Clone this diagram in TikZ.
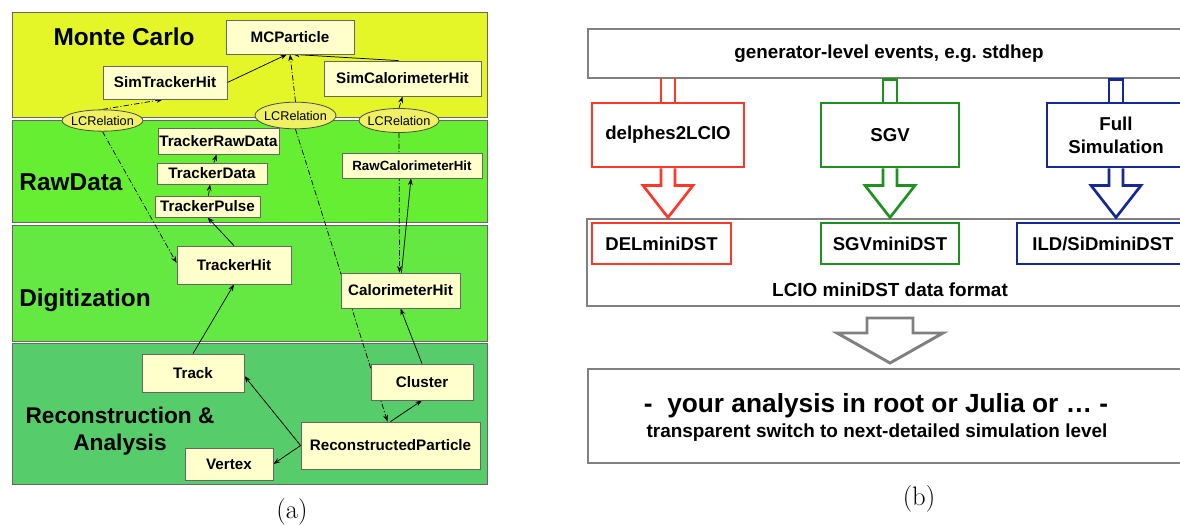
\documentclass[tikz,border=0pt]{standalone}
\usepackage{fontspec}
\newfontfamily\arialfont{Liberation Sans}
\usetikzlibrary{arrows.meta,shapes.geometric,calc}
\pgfdeclarelayer{bg}
\pgfdeclarelayer{edges}
\pgfsetlayers{bg,edges,main}
\definecolor{mcband}{RGB}{228,245,40}
\definecolor{rawband}{RGB}{102,238,50}
\definecolor{digband}{RGB}{100,232,66}
\definecolor{recband}{RGB}{86,204,106}
\definecolor{nodefill}{RGB}{255,255,204}
\definecolor{ellfill}{RGB}{240,240,100}
\definecolor{myred}{RGB}{255,55,40}
\definecolor{mygreen}{RGB}{30,145,30}
\definecolor{myblue}{RGB}{20,40,150}
\definecolor{mygray}{RGB}{128,128,128}
\tikzset{
 box/.style={draw=black!60, fill=nodefill, line width=0.6pt, inner sep=0pt, text=black, font=\arialfont\bfseries\fontsize{11.4}{13}\selectfont},
 rel/.style={ellipse, draw=black!70, fill=ellfill, line width=0.6pt, inner sep=0pt, font=\arialfont\fontsize{9.5}{11}\selectfont},
 band/.style={draw=black!60, line width=0.7pt},
 bandlbl/.style={font=\arialfont\bfseries\fontsize{18.3}{21}\selectfont, inner sep=0pt},
 conn/.style={line width=0.55pt, -{Stealth[length=5pt,width=3.6pt]}},
 reldash/.style={conn, dash pattern=on 4pt off 1.6pt on 0.8pt off 1.6pt},
 gframe/.style={draw=mygray, line width=2.2pt, fill=white, inner sep=0pt},
 cbox/.style={draw=#1, line width=2.2pt, fill=white, inner sep=0pt, align=center, font=\arialfont\bfseries\fontsize{14}{17.25}\selectfont},
 minibox/.style={cbox=#1, font=\arialfont\bfseries\fontsize{13.9}{16}\selectfont},
 carrow/.style={draw=#1, line width=2pt, line join=miter},
 sublabel/.style={font=\fontsize{20}{24}\selectfont, inner sep=0pt},
 rtext/.style={inner sep=0pt, font=\arialfont\bfseries\fontsize{#1}{#1}\selectfont}
}
\begin{document}
\begin{tikzpicture}[x=0.75pt,y=-0.75pt]
\useasboundingbox (0,0) rectangle (1180,525);
% ---------------- left panel bands
\begin{pgfonlayer}{bg}
\draw[band, fill=mcband] (12,12) rectangle (487,117);
\draw[band, fill=rawband] (12,120) rectangle (487,222.5);
\draw[band, fill=digband] (12,225.5) rectangle (487,341);
\draw[band, fill=recband] (12,343) rectangle (487.5,484);
\end{pgfonlayer}
\node[bandlbl] (lmc) at (124,37) {Monte Carlo};
\node[bandlbl] (lraw) at (71,182) {RawData};
\node[bandlbl] (ldig) at (85,300) {Digitization};
\node[bandlbl, align=center, font=\arialfont\bfseries\fontsize{17}{20}\selectfont] (lrec) at (120,431) {Reconstruction \&\\Analysis};
% ---------------- left panel nodes
\node[box, minimum width=96pt, minimum height=25.5pt] (mcp) at (290,37) {MCParticle};
\node[box, minimum width=93pt, minimum height=24.75pt] (sth) at (165,82.5) {SimTrackerHit};
\node[box, minimum width=117.75pt, minimum height=26.25pt] (sch) at (402.5,78.5) {SimCalorimeterHit};
\node[rel, minimum width=60.75pt, minimum height=16pt] (rell) at (102.5,120.5) {\makebox[0pt]{LCRelation}};
\node[rel, minimum width=60.75pt, minimum height=20pt] (relm) at (295.5,115.5) {\makebox[0pt]{LCRelation}};
\node[rel, minimum width=60pt, minimum height=18pt] (relr) at (399,120.5) {\makebox[0pt]{LCRelation}};
\node[box, minimum width=90.75pt, minimum height=19.5pt] (trd) at (218.5,141) {TrackerRawData};
\node[box, minimum width=82.5pt, minimum height=15.75pt] (td) at (212,173.5) {TrackerData};
\node[box, minimum width=78.75pt, minimum height=15.75pt] (tp) at (207.5,206.5) {TrackerPulse};
\node[box, minimum width=105pt, minimum height=18.75pt, font=\arialfont\bfseries\fontsize{10}{12}\selectfont] (rch) at (412,165.5) {RawCalorimeterHit};
\node[box, minimum width=85.5pt, minimum height=28.5pt] (trh) at (234,265) {TrackerHit};
\node[box, minimum width=89.25pt, minimum height=26.25pt] (cah) at (400.5,290.5) {CalorimeterHit};
\node[box, minimum width=76.5pt, minimum height=28.5pt] (trk) at (193,373) {Track};
\node[box, minimum width=76.5pt, minimum height=27pt] (cl) at (422,382) {Cluster};
\node[box, minimum width=134.25pt, minimum height=35.25pt] (rp) at (390.5,445.5) {ReconstructedParticle};
\node[box, minimum width=66pt, minimum height=24pt] (vtx) at (229,464) {Vertex};
% ---------------- left panel connectors
\begin{pgfonlayer}{edges}
\draw[conn] (sth.east) -- ($(mcp.south)+(-3,0)$);
\draw[conn] ($(sch.north)+(-4,0)$) -- ($(mcp.south)+(3,0)$);
\draw[reldash] (relm.north) -- (mcp.south);
\draw[reldash] (rell.north) -- ($(sth.south)+(-2,0)$);
\draw[reldash] (relr.north) -- (sch.south);
\draw[reldash] (rell.south) -- ($(trh.west)+(0,-2)$);
\draw[reldash] (relm.south) -- ($(rp.north)+(-3,0)$);
\draw[reldash] (relr.south) -- ($(cah.north)+(-1,0)$);
\draw[conn] ($(cah.north)+(1,0)$) -- ($(rch.south)+(-1,0)$);
\draw[reldash] ($(tp.north)+(1,0)$) -- ($(td.south)+(-2,0)$);
\draw[reldash] ($(td.north)+(2,0)$) -- ($(trd.south)+(-2,0)$);
\draw[conn] (trh.north) -- (tp.south);
\draw[conn] (trk.north) -- (trh.south);
\draw[conn] (cl.north) -- (cah.south);
\draw[conn] (rp.west) -- ($(trk.east)+(0,3)$);
\draw[conn] (rp.west) -- (vtx.east);
\draw[conn] (rp.north) -- (cl.south);
\end{pgfonlayer}
% ---------------- right panel
\node[gframe, minimum width=451.5pt, minimum height=36.75pt, font=\arialfont\bfseries\fontsize{14.1}{17}\selectfont] (gen) at (889,53.5) {generator-level events, e.g.\ stdhep};
\node[cbox=myred, minimum width=114pt, minimum height=48pt] (del) at (668,135) {delphes2LCIO};
\node[cbox=mygreen, minimum width=103.5pt, minimum height=48pt] (sgv) at (890,135) {SGV};
\node[cbox=myblue, minimum width=103.5pt, minimum height=48pt] (full) at (1116,135) {Full\\Simulation};
% upper stems
\draw[carrow=myred] ($(del.north)+(-7,0)$) -- ++(0,-24) ++(14,0) -- ++(0,24);
\draw[carrow=mygreen] ($(sgv.north)+(-7,0)$) -- ++(0,-22) -- ++(14,0) -- ++(0,22);
\draw[carrow=myblue] ($(full.north)+(-7,0)$) -- ++(0,-22) -- ++(14,0) -- ++(0,22);
% LCIO frame
\node[gframe, minimum width=452.25pt, minimum height=65.25pt] (lcio) at (888.5,262.5) {};
\node[minibox=myred, minimum width=104.25pt, minimum height=30.75pt] (delm) at (661.5,243.5) {DELminiDST};
\node[minibox=mygreen, minimum width=103.5pt, minimum height=30.75pt] (sgvm) at (890,243.5) {SGVminiDST};
\node[minibox=myblue, minimum width=129pt, minimum height=30.75pt] (ildm) at (1103,243.5) {ILD/SiDminiDST};
\node[rtext=14.2] (fmt) at (890,290) {LCIO miniDST data format};
% lower block arrows
\draw[carrow=myred] ($(del.south)+(-7,0)$) -- ++(0,17) -- ++(-18,0) -- ($(del.south)+(0,49)$) -- ($(del.south)+(25,17)$) -- ++(-18,0) -- ++(0,-17);
\draw[carrow=mygreen] ($(sgv.south)+(-7,0)$) -- ++(0,17) -- ++(-18,0) -- ($(sgv.south)+(0,49)$) -- ($(sgv.south)+(25,17)$) -- ++(-18,0) -- ++(0,-17);
\draw[carrow=myblue] ($(full.south)+(-7,0)$) -- ++(0,17) -- ++(-18,0) -- ($(full.south)+(0,49)$) -- ($(full.south)+(25,17)$) -- ++(-18,0) -- ++(0,-17);
% gray arrow
\draw[carrow=mygray, line width=2.2pt] (867,318) -- (913,318) -- (913,333) -- (943,333) -- (890,363) -- (837,333) -- (867,333) -- cycle;
% analysis frame
\node[gframe, minimum width=451.5pt, minimum height=70.5pt] (ana) at (889,416) {};
\node[rtext=19.7] (ana1) at (876,406) {-~~your analysis in root or Julia or … -};
\node[rtext=14.2] (ana2) at (877,433) {transparent switch to next-detailed simulation level};
% captions
\node[sublabel] (capa) at (292,512) {(a)};
\node[sublabel] (capb) at (919,499) {(b)};
\end{tikzpicture}
\end{document}
